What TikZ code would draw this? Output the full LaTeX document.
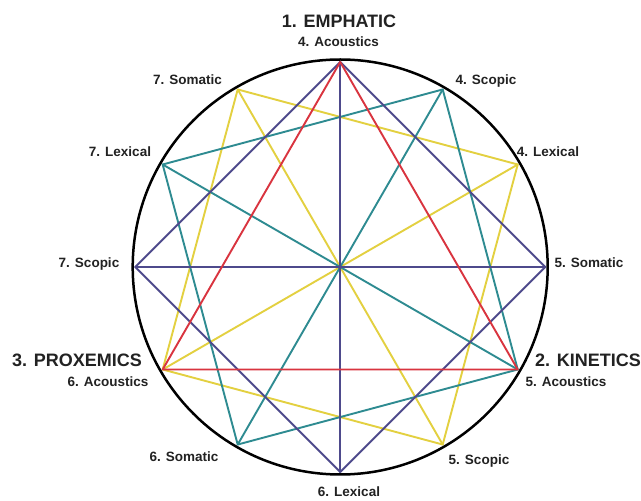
\documentclass[tikz,border=0pt]{standalone}
\usepackage{fontspec}
\setmainfont{Liberation Sans}
\definecolor{cred}{HTML}{D9343F}
\definecolor{cpurple}{HTML}{4E4A8C}
\definecolor{cteal}{HTML}{2E8B91}
\definecolor{cyellow}{HTML}{E3D040}
\definecolor{txt}{HTML}{222222}
\begin{document}
\begin{tikzpicture}[x=1pt,y=1pt,
  edge/.style={line width=1.9pt, line cap=round, line join=round},
  big/.style={font=\fontsize{18}{20}\selectfont\bfseries, text=txt, inner sep=0pt, anchor=base},
  small/.style={font=\fontsize{13.5}{15}\selectfont\bfseries, text=txt, inner sep=0pt, anchor=base}]
\useasboundingbox (0,0) rectangle (641,501);
\fill[white] (0,0) rectangle (641,501);
\coordinate (c) at (340.2,234);
\foreach \a in {0,30,...,330} { \path (c) ++(\a:205) coordinate (v\a); }
% yellow
\draw[edge, cyellow] (v120) -- (v30) -- (v300) -- (v210) -- cycle;
\draw[edge, cyellow] (v120) -- (v300);
\draw[edge, cyellow] (v30) -- (v210);
% teal
\draw[edge, cteal] (v60) -- (v150) -- (v240) -- (v330) -- cycle;
\draw[edge, cteal] (v60) -- (v240);
\draw[edge, cteal] (v150) -- (v330);
% purple
\draw[edge, cpurple] (v90) -- (v0) -- (v270) -- (v180) -- cycle;
\draw[edge, cpurple, line width=2.2pt] (v90) -- (v270);
\draw[edge, cpurple] (v0) -- (v180);
% red
\draw[edge, cred] (v90) -- (v330) -- (v210) -- cycle;
% ring
\node[circle, draw=black, line width=2.5pt, minimum size=415pt, inner sep=0pt] (ring) at (c) {};
% labels
\node[big] (emph) at (339,473) {1. EMPHATIC};
\node[small] (l90) at (338.5,454) {4. Acoustics};
\node[small] (l120) at (187.5,416) {7. Somatic};
\node[small] (l60) at (486,416) {4. Scopic};
\node[small] (l150) at (120,344) {7. Lexical};
\node[small] (l30) at (548,344) {4. Lexical};
\node[small] (l180) at (89,233.5) {7. Scopic};
\node[small] (l0) at (589,233.5) {5. Somatic};
\node[big] (prox) at (77,134) {3. PROXEMICS};
\node[small] (l210) at (108,114) {6. Acoustics};
\node[big] (kin) at (588,134) {2. KINETICS};
\node[small] (l330) at (566,114) {5. Acoustics};
\node[small] (l240) at (184,39) {6. Somatic};
\node[small] (l300) at (479,36) {5. Scopic};
\node[small] (l270) at (349,4) {6. Lexical};
\end{tikzpicture}
\end{document}
